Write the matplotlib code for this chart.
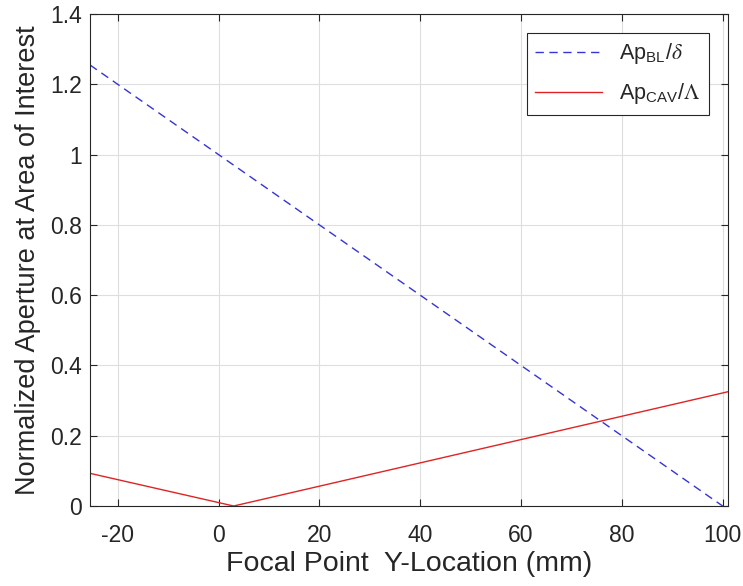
import matplotlib
matplotlib.use("Agg")
import matplotlib.pyplot as plt

# focal point sweep (mm) and normalised apertures
y_bl = [-25.5, 100.0]
ap_bl = [1.255, 0.0]

y_cav = [-25.5, 3.0, 101.0]
ap_cav = [0.093, 0.0, 0.325]

x_ticks = [-20, 0, 20, 40, 60, 80, 100]
y_ticks = [0, 0.2, 0.4, 0.6, 0.8, 1, 1.2, 1.4]
y_tick_labels = ['0', '0.2', '0.4', '0.6', '0.8', '1', '1.2', '1.4']

plt.rcParams['font.family'] = ['Liberation Sans', 'DejaVu Sans']
plt.rcParams['mathtext.fontset'] = 'stix'
plt.rcParams['axes.unicode_minus'] = False
text_col = '#262626'

fig = plt.figure(figsize=(7.43, 5.86), dpi=100)
ax = fig.add_axes([0.1211, 0.1365, 0.8583, 0.8396])

ax.plot(y_bl, ap_bl, color='#3434d8', linestyle=(0, (6, 4)), linewidth=1.0,
        label=r'Ap$_{\mathregular{BL}}$/$\delta$')
ax.plot(y_cav, ap_cav, color='#e02424', linewidth=1.0,
        label=r'Ap$_{\mathregular{CAV}}$/$\Lambda$')

ax.set_xlim(-25.5, 101)
ax.set_ylim(0, 1.4)
ax.set_xticks(x_ticks)
ax.set_yticks(y_ticks)
ax.set_yticklabels(y_tick_labels)

ax.grid(True, color='#dedede', linewidth=0.8)
ax.set_axisbelow(True)
ax.tick_params(direction='in', length=5, width=0.8, top=True, right=True,
               labelsize=16.5, colors=text_col)
ax.tick_params(axis='x', pad=13)
ax.tick_params(axis='y', pad=6)
for side in ['top', 'left', 'bottom', 'right']:
    ax.spines[side].set_color(text_col)
    ax.spines[side].set_linewidth(0.8)

ax.set_xlabel('Focal Point  Y-Location (mm)', fontsize=20.5, color=text_col, labelpad=3)
ax.set_ylabel('Normalized Aperture at Area of Interest', fontsize=19.5, color=text_col, labelpad=6)

leg = ax.legend(loc='upper right', bbox_to_anchor=(0.971, 0.962), borderaxespad=0,
                fontsize=15.5, handlelength=3.1, fancybox=False, framealpha=1,
                edgecolor=text_col, labelspacing=0.7)
leg.get_frame().set_linewidth(0.8)
for t in leg.get_texts():
    t.set_color(text_col)

fig.savefig('out.png', dpi=100)
